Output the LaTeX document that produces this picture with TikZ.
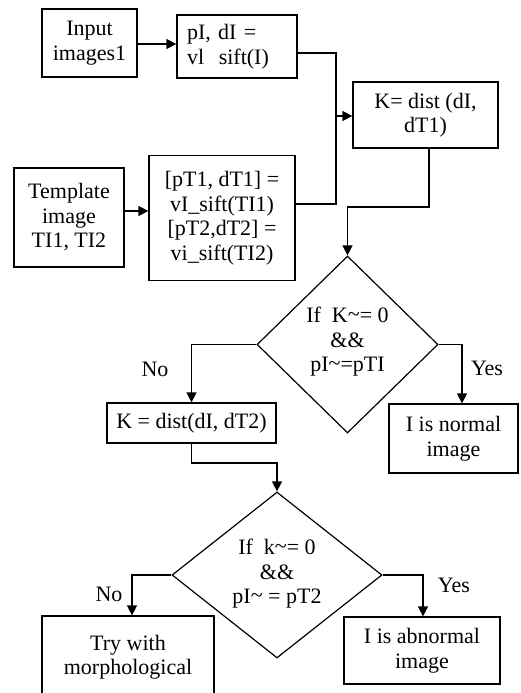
\documentclass[tikz,border=0pt]{standalone}
\usepackage{fontspec}
\setmainfont{Liberation Serif}
\usetikzlibrary{shapes.geometric,arrows.meta,calc}
\newcommand{\tld}{\raisebox{0.15ex}{\textasciitilde}}
\begin{document}
\begin{tikzpicture}[x=1pt,y=-1pt,
  every node/.style={font=\fontsize{22}{24.5}\selectfont},
  box/.style={draw,line width=1.2pt,rectangle,inner sep=0pt,align=center},
  dia/.style={draw,line width=1.2pt,diamond,inner sep=0pt},
  conn/.style={line width=1.2pt},
  arr/.style={line width=1.2pt,-{Triangle[length=10pt,width=10pt]}},
  lbl/.style={inner sep=0pt}]
\useasboundingbox (0,0) rectangle (520,693);
\clip (0,0) rectangle (520,693);
% boxes
\node[box,minimum width=95pt,minimum height=68pt] (in) at (89.5,43) {Input\\images1};
\node[box,minimum width=120pt,minimum height=63pt,text width=100pt,align=left] (pI) at (237,46.5) {pI, dI =\\vl~~sift(I)};
\node[box,minimum width=110pt,minimum height=99pt] (tmpl) at (69,217.5) {Template\\image\\TI1, TI2};
\node[box,minimum width=146pt,minimum height=125pt] (sift) at (222,218) {{[pT1, dT1] =}\\vI\_sift(TI1)\\{[pT2,dT2] =}\\vi\_sift(TI2)};
\node[box,minimum width=145pt,minimum height=66pt] (K) at (425.5,115) {K= dist (dI,\\dT1)};
\node[dia,minimum width=181pt,minimum height=177pt] (d1) at (347.5,344.5) {};
\node[lbl,align=center] (d1t) at (347.5,342) {If~~K\tld= 0\\\&\&\\pI\tld=pTI};
\node[box,minimum width=169pt,minimum height=40pt] (K2) at (191.5,423) {K = dist(dI, dT2)};
\node[box,minimum width=129pt,minimum height=69pt] (normal) at (453.5,438.5) {I is normal\\image};
\node[dia,minimum width=210pt,minimum height=166pt] (d2) at (277,575) {};
\node[lbl,align=center] (d2t) at (277,574) {If~~k\tld= 0\\\&\&\\pI\tld{} = pT2};
\node[box,minimum width=172pt,minimum height=102pt] (try) at (128,667) {Try with\\morphological\\~};
\node[box,minimum width=156pt,minimum height=67pt] (abn) at (422,650.5) {I is abnormal\\image};
% labels
\node[lbl] (no1) at (155,369) {No};
\node[lbl] (yes1) at (487,368) {Yes};
\node[lbl] (no2) at (109,594) {No};
\node[lbl] (yes2) at (454,585) {Yes};
% connectors
\coordinate (j1) at (336,116);
\coordinate (j2) at (347.5,207);
\coordinate (j3) at (277,463);
\draw[arr] (in.east |- 0,44) -- (pI.west |- 0,44);
\draw[arr] (tmpl.east |- 0,211) -- (sift.west |- 0,211);
\draw[conn] ([yshift=-6.5pt]pI.east) -| (j1);
\draw[conn] ([yshift=14pt]sift.east) -| (j1);
\draw[arr] (j1) -- (j1 -| K.west);
\draw[arr] ([xshift=3.5pt]K.south) |- (j2) -- (d1.north);
\draw[arr] (d1.west) -| (K2.north);
\draw[arr] (d1.east) -| ([xshift=8.5pt]normal.north);
\draw[arr] (K2.south) |- (j3) -- (d2.north);
\draw[arr] (d2.west) -| ([xshift=4pt]try.north);
\draw[arr] (d2.east) -| ([xshift=1pt]abn.north);
\end{tikzpicture}
\end{document}
